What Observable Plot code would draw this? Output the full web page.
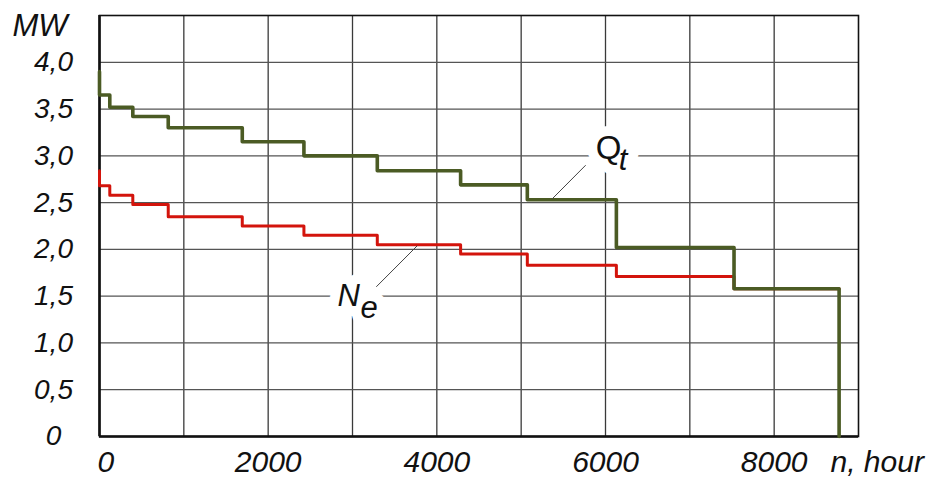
<!DOCTYPE html>
<html>
<head>
<meta charset="utf-8">
<script src="https://cdn.jsdelivr.net/npm/d3@7"></script>
<script src="https://cdn.jsdelivr.net/npm/@observablehq/plot@0.6"></script>
<style>
  html, body { margin: 0; padding: 0; background: #fff; }
  #chart svg { display: block; }
</style>
</head>
<body>
<div id="chart"></div>
<script>
// ---- data ----
const breakHours = [0, 122, 395, 815, 1693, 2424, 3294, 4282, 5073, 6129, 7524, 8770];
const qtStart = 3.90;
const qtLevels = [3.65, 3.52, 3.42, 3.30, 3.15, 3.00, 2.84, 2.69, 2.53, 2.02, 1.58];
const neStart = 2.84;
const neLevels = [2.68, 2.58, 2.48, 2.35, 2.25, 2.15, 2.05, 1.95, 1.83, 1.71, 1.58];

const xLabelTicks = [2000, 4000, 6000, 8000];
const xGridTicks = [1000, 2000, 3000, 4000, 5000, 6000, 7000, 8000];
const yLabelTicks = [0, 0.5, 1, 1.5, 2, 2.5, 3, 3.5, 4];
const yGridTicks = [0.5, 1, 1.5, 2, 2.5, 3, 3.5, 4];

// series labels (data coordinates)
const seriesLabels = [
  {text: "Q", x: 5884, y: 3.08, italic: false},
  {text: "t", x: 6157, y: 2.95, italic: true},
  {text: "N", x: 2823, y: 1.50, italic: true},
  {text: "e", x: 3096, y: 1.37, italic: true}
];
const leaders = [
  {x1: 5368, y1: 2.54, x2: 5765, y2: 2.90},
  {x1: 3282, y1: 1.60, x2: 3769, y2: 2.04}
];

// ---- build step series ----
const lastHour = breakHours[breakHours.length - 1];
const qtPts = [{x: 0, y: qtStart}, ...qtLevels.map((v, i) => ({x: breakHours[i], y: v})), {x: lastHour, y: 0}];
const nePts = [{x: 0, y: neStart}, ...neLevels.map((v, i) => ({x: breakHours[i], y: v})), {x: lastHour, y: neLevels[neLevels.length - 1]}];

const font = "'Liberation Sans', Arial, Helvetica, sans-serif";
const fmt = d => d === 0 ? "0" : d.toFixed(1).replace(".", ",");
const upright = seriesLabels.filter(d => !d.italic);
const italic = seriesLabels.filter(d => d.italic);

const chart = Plot.plot({
  width: 932,
  height: 478,
  marginLeft: 99,
  marginRight: 74,
  marginTop: 15,
  marginBottom: 42,
  style: {fontFamily: font, background: "#fff", overflow: "visible"},
  x: {domain: [0, 9000], axis: null},
  y: {domain: [0, 4.5], axis: null},
  marks: [
    Plot.ruleX(xGridTicks, {stroke: "#3a3a3a", strokeWidth: 1.3}),
    Plot.ruleY(yGridTicks, {stroke: "#555", strokeWidth: 1.3}),
    Plot.frame({stroke: "#111", strokeWidth: 1.6}),
    Plot.ruleX([0], {stroke: "#111", strokeWidth: 2.6}),
    Plot.ruleY([0], {stroke: "#111", strokeWidth: 2.6}),
    // white knockouts behind series labels
    Plot.text(upright, {x: "x", y: "y", text: "text", textAnchor: "start", lineAnchor: "middle", fontSize: 33, fill: "white", stroke: "white", strokeWidth: 20, strokeLinejoin: "round"}),
    Plot.text(italic, {x: "x", y: "y", text: "text", textAnchor: "start", lineAnchor: "middle", fontSize: 31, fontStyle: "italic", fill: "white", stroke: "white", strokeWidth: 20, strokeLinejoin: "round"}),
    // step curves
    Plot.line(nePts, {x: "x", y: "y", curve: "step-after", stroke: "#d3140c", strokeWidth: 3}),
    Plot.line(qtPts, {x: "x", y: "y", curve: "step-after", stroke: "#4b5b24", strokeWidth: 3.6}),
    // leaders
    Plot.link(leaders, {x1: "x1", y1: "y1", x2: "x2", y2: "y2", stroke: "#444", strokeWidth: 1}),
    // series labels
    Plot.text(upright, {x: "x", y: "y", text: "text", textAnchor: "start", lineAnchor: "middle", fontSize: 33, fill: "#111"}),
    Plot.text(italic, {x: "x", y: "y", text: "text", textAnchor: "start", lineAnchor: "middle", fontSize: 31, fontStyle: "italic", fill: "#111"}),
    // axis labels
    Plot.text(yLabelTicks, {y: d => d, text: fmt, frameAnchor: "left", dx: -46, textAnchor: "middle", lineAnchor: "middle", fontSize: 28, fontStyle: "italic", fill: "#111"}),
    Plot.text([0], {x: d => d, text: d => String(d), frameAnchor: "bottom", lineAnchor: "middle", dy: 26, textAnchor: "start", dx: -2, fontSize: 30, fontStyle: "italic", fill: "#111"}),
    Plot.text(xLabelTicks, {x: d => d, text: d => String(d), frameAnchor: "bottom", lineAnchor: "middle", dy: 26, textAnchor: "middle", fontSize: 30, fontStyle: "italic", fill: "#111"}),
    Plot.text(["n, hour"], {text: d => d, frameAnchor: "bottom-right", lineAnchor: "middle", dx: -28, dy: 26, textAnchor: "start", fontSize: 30, fontStyle: "italic", fill: "#111"}),
    Plot.text(["MW"], {text: d => d, frameAnchor: "top-left", lineAnchor: "middle", dx: -87, dy: 11, textAnchor: "start", fontSize: 31, fontStyle: "italic", fill: "#111"})
  ]
});
document.getElementById("chart").appendChild(chart);
</script>
</body>
</html>
